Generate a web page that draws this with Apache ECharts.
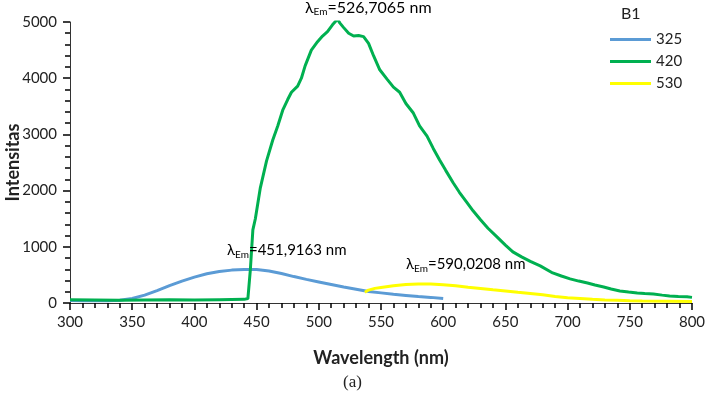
<!DOCTYPE html>
<html>
<head>
<meta charset="utf-8">
<script src="https://cdn.jsdelivr.net/npm/echarts@6/dist/echarts.min.js"></script>
<style>
  html, body { margin: 0; padding: 0; background: #fff; }
  #chart { width: 705px; height: 399px; }
</style>
</head>
<body>
<div id="chart"></div>
<script>
// excitation 325 nm
const nm325 = [300, 310, 320, 330, 340, 350, 360, 370, 380, 390, 400, 410, 420, 430, 440, 450, 460, 470, 480, 490, 500, 510, 520, 530, 540, 550, 560, 570, 580, 590, 600];
const val325 = [45, 40, 42, 38, 50, 80, 140, 220, 310, 390, 460, 520, 560, 585, 595, 595, 570, 525, 470, 420, 375, 330, 285, 245, 205, 180, 155, 135, 115, 100, 80];

// excitation 420 nm
const nm420 = [300, 320, 340, 360, 380, 400, 420, 440, 443, 445, 447, 449, 453, 458, 463, 467, 471, 475, 478, 483, 486, 489, 494, 499, 503, 507, 511, 513, 515, 517, 520, 524, 528, 532, 536, 540, 544, 549, 555, 560, 565, 570, 576, 581, 587, 592, 597, 602, 608, 613, 619, 624, 630, 636, 643, 650, 656, 663, 670, 678, 688, 695, 702, 709, 716, 722, 729, 735, 742, 749, 756, 762, 769, 776, 782, 789, 796, 800];
const val420 = [60, 55, 50, 55, 60, 55, 60, 65, 80, 600, 1300, 1500, 2050, 2530, 2900, 3150, 3430, 3620, 3750, 3860, 4000, 4220, 4500, 4650, 4750, 4830, 4950, 5000, 5050, 4980, 4900, 4800, 4750, 4760, 4740, 4620, 4400, 4150, 3980, 3840, 3750, 3550, 3380, 3150, 2970, 2750, 2550, 2360, 2140, 1970, 1790, 1640, 1480, 1330, 1180, 1030, 910, 820, 740, 660, 535, 480, 430, 390, 355, 320, 285, 250, 215, 195, 180, 170, 160, 140, 125, 115, 110, 100];

// excitation 530 nm
const nm530 = [537, 540, 545, 550, 560, 570, 580, 590, 600, 610, 620, 630, 640, 650, 660, 670, 680, 690, 700, 710, 720, 730, 740, 750, 760, 780, 800];
const val530 = [190, 230, 260, 275, 305, 330, 340, 340, 325, 305, 280, 260, 235, 215, 190, 170, 145, 115, 95, 80, 65, 55, 50, 40, 35, 30, 25];

const seriesNames = ['325', '420', '530'];
const seriesColors = ['#5b9bd5', '#00b050', '#ffff00'];

const zip = (xs, ys) => xs.map((x, i) => [x, ys[i]]);
const seriesData = [zip(nm325, val325), zip(nm420, val420), zip(nm530, val530)];

const chart = echarts.init(document.getElementById('chart'));
const txt = '#222';
const axisCol = '#333';

function peakLabel(text, left, top, size) {
    return {
        type: 'text',
        left: left,
        top: top,
        z: 100,
        style: {
            text: '{l|λ}{s|Em}{l|=' + text + ' nm}',
            rich: {
                l: { fontFamily: 'Lato', fontSize: size, lineHeight: 18, color: txt },
                s: { fontFamily: 'Lato', fontSize: 10, lineHeight: 10, verticalAlign: 'bottom', color: txt }
            }
        }
    };
}

const tickStyle = { color: '#000', width: 1.5, opacity: 1 };

chart.setOption({
    backgroundColor: '#fff',
    animation: false,
    textStyle: { fontFamily: 'Lato' },
    title: {
        text: 'B1',
        left: 616,
        top: 1,
        textStyle: { fontFamily: 'Lato', fontSize: 16, fontWeight: 'normal', color: txt }
    },
    legend: {
        data: seriesNames,
        orient: 'vertical',
        left: 605,
        top: 26,
        icon: 'rect',
        itemWidth: 41,
        itemHeight: 3,
        itemGap: 5,
        textStyle: { fontFamily: 'Lato', fontSize: 15, color: txt, lineHeight: 17 }
    },
    grid: { left: 70, right: 13, top: 22, bottom: 96, containLabel: false, outerBoundsMode: 'none' },
    xAxis: {
        type: 'value',
        min: 300,
        max: 800,
        interval: 50,
        name: 'Wavelength (nm)',
        nameLocation: 'middle',
        nameGap: 46,
        nameMoveOverlap: false,
        nameTextStyle: { fontFamily: 'Lato', fontSize: 18, fontWeight: 'bold', color: txt },
        axisLine: { show: true, onZero: false, lineStyle: { color: axisCol, width: 1 } },
        axisTick: { show: true, inside: false, length: 7, lineStyle: tickStyle },
        minorTick: { show: true, splitNumber: 5, length: 5, lineStyle: tickStyle },
        axisLabel: { fontFamily: 'Lato', fontSize: 15, color: txt, margin: 12 },
        splitLine: { show: false }
    },
    yAxis: {
        type: 'value',
        min: 0,
        max: 5000,
        interval: 1000,
        name: 'Intensitas',
        nameLocation: 'middle',
        nameGap: 48,
        nameMoveOverlap: false,
        nameTextStyle: { fontFamily: 'Lato', fontSize: 18, fontWeight: 'bold', color: txt },
        axisLine: { show: true, onZero: false, lineStyle: { color: axisCol, width: 1 } },
        axisTick: { show: true, inside: false, length: 7, lineStyle: tickStyle },
        minorTick: { show: true, splitNumber: 5, length: 5, lineStyle: tickStyle },
        axisLabel: { fontFamily: 'Lato', fontSize: 15, color: txt, margin: 13, formatter: v => String(v) },
        splitLine: { show: false }
    },
    series: seriesNames.map((name, i) => ({
        name: name,
        type: 'line',
        data: seriesData[i],
        showSymbol: false,
        symbol: 'none',
        smooth: false,
        color: seriesColors[i],
        lineStyle: { width: 3, color: seriesColors[i] }
    })),
    graphic: [
        peakLabel('526,7065', 305, 0, 16),
        peakLabel('451,9163', 227, 243, 15),
        peakLabel('590,0208', 406, 257, 15),
        {
            type: 'text',
            left: 343,
            top: 374,
            style: { text: '(a)', fontFamily: 'Liberation Serif', fontSize: 17, fill: txt }
        }
    ]
});

window.addEventListener('resize', () => chart.resize());
</script>
</body>
</html>
